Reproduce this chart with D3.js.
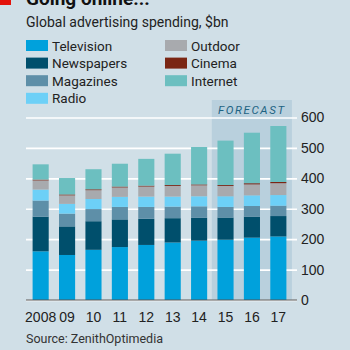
<!DOCTYPE html>
<html>
<head>
<meta charset="utf-8">
<script src="https://cdn.jsdelivr.net/npm/d3@7"></script>
<style>
  body { margin: 0; background: #d0dfe7; }
  svg { display: block; font-family: "Liberation Sans Narrow", "Roboto", sans-serif; }
</style>
</head>
<body>
<div class="chart"></div>
<script>
// data, $bn
const years = ["2008", "09", "10", "11", "12", "13", "14", "15", "16", "17"];
const television = [160, 148, 165, 174, 181, 189, 195, 198, 205, 209];
const newspapers = [114, 94, 94, 91, 86, 80, 75, 73, 69, 67];
const magazines  = [53, 42, 40, 41, 39, 38, 38, 35, 35, 34];
const radio      = [36, 32, 33, 33, 34, 33, 33, 35, 35, 35];
const outdoor    = [30, 28, 29, 31, 33, 35, 36, 34, 36, 39];
const cinema     = [3, 3, 3, 3, 3, 3, 3, 3, 4, 4];
const internet   = [50, 54, 66, 75, 88, 103, 123, 146, 166, 184];
const media = ["Television", "Newspapers", "Magazines", "Radio", "Outdoor", "Cinema", "Internet"];
const yTicks = [0, 100, 200, 300, 400, 500, 600];
const forecastYears = ["15", "16", "17"];

const colors = {
    Television: "#00a1dc",
    Newspapers: "#004f6c",
    Magazines: "#5e8fa8",
    Radio: "#6dd0f7",
    Outdoor: "#a8aaae",
    Cinema: "#7a2614",
    Internet: "#6cbfc0"
};

const series = [television, newspapers, magazines, radio, outdoor, cinema, internet];
const table = years.map((y, i) => {
    const row = {year: y};
    media.forEach((m, j) => row[m] = series[j][i]);
    return row;
});

const width = 350, height = 350;
const svg = d3.select(".chart")
    .append("svg")
    .attr("width", width)
    .attr("height", height);

// scales
const x = d3.scaleBand()
    .domain(years)
    .range([26, 293])
    .paddingInner(0.39)
    .paddingOuter(0.25);

const y = d3.scaleLinear()
    .domain([0, 600])
    .range([300, 117.5]);

// title + red tab (cut off at top)
svg.append("rect")
    .attr("x", 0).attr("y", 0)
    .attr("width", 11).attr("height", 5)
    .attr("fill", "#e3120b");
svg.append("text")
    .attr("x", 26).attr("y", 5)
    .attr("font-size", 19)
    .attr("font-weight", "bold")
    .attr("fill", "#111")
    .text("Going online...");

svg.append("text")
    .attr("x", 26).attr("y", 27)
    .attr("font-size", 14)
    .attr("fill", "#222")
    .text("Global advertising spending, $bn");

// legend
const legend = svg.append("g");
media.forEach((m, i) => {
    const col = i < 4 ? 0 : 1;
    const row = i < 4 ? i : i - 4;
    const lx = col === 0 ? 26 : 165;
    const ly = 40 + row * 17.6;
    legend.append("rect")
        .attr("x", lx).attr("y", ly)
        .attr("width", 22).attr("height", 11)
        .attr("fill", colors[m]);
    legend.append("text")
        .attr("x", lx + 26).attr("y", ly + 10.5)
        .attr("font-size", 13.5)
        .attr("fill", "#222")
        .text(m);
});

// forecast shading
const fx0 = x(forecastYears[0]) - (x.step() - x.bandwidth()) / 2 - 0.5;
const fx1 = x(forecastYears[forecastYears.length - 1]) + x.bandwidth() + 5.5;
svg.append("rect")
    .attr("x", fx0).attr("y", 100)
    .attr("width", fx1 - fx0).attr("height", y(0) - 100)
    .attr("fill", "#b9d0dd");
svg.append("text")
    .attr("x", (fx0 + fx1) / 2).attr("y", 113.5)
    .attr("text-anchor", "middle")
    .attr("font-size", 11.5)
    .attr("font-style", "italic")
    .attr("letter-spacing", 1.6)
    .attr("fill", "#1d6383")
    .text("FORECAST");

// gridlines + y axis labels on the right
const yAxis = d3.axisRight(y)
    .tickValues(yTicks)
    .tickSize(271)
    .tickPadding(4);
const yAxisDisplay = svg.append("g")
    .attr("transform", "translate(26,0)")
    .call(yAxis);
yAxisDisplay.select(".domain").remove();
yAxisDisplay.selectAll(".tick line")
    .attr("stroke", "#fff")
    .attr("stroke-width", 1.6);
yAxisDisplay.selectAll(".tick text")
    .attr("font-size", 14)
    .attr("font-family", "inherit")
    .attr("fill", "#222");

// stacked bars
const stacked = d3.stack().keys(media)(table);
svg.append("g")
    .selectAll("g")
    .data(stacked)
    .join("g")
    .attr("fill", d => colors[d.key])
    .selectAll("rect")
    .data(d => d)
    .join("rect")
    .attr("x", d => x(d.data.year))
    .attr("y", d => y(d[1]))
    .attr("width", x.bandwidth())
    .attr("height", d => y(d[0]) - y(d[1]));

// baseline
svg.append("line")
    .attr("x1", 26).attr("x2", 297)
    .attr("y1", y(0)).attr("y2", y(0))
    .attr("stroke", "#555")
    .attr("stroke-width", 1.2);

// x axis labels
const xAxis = d3.axisBottom(x).tickSize(0).tickPadding(12);
const xAxisDisplay = svg.append("g")
    .attr("transform", `translate(0,${y(0)})`)
    .call(xAxis);
xAxisDisplay.select(".domain").remove();
xAxisDisplay.selectAll(".tick text")
    .attr("font-size", 14)
    .attr("font-family", "inherit")
    .attr("fill", "#222");

svg.append("text")
    .attr("x", 26).attr("y", 343)
    .attr("font-size", 12.5)
    .attr("fill", "#333")
    .text("Source: ZenithOptimedia");
</script>
</body>
</html>
